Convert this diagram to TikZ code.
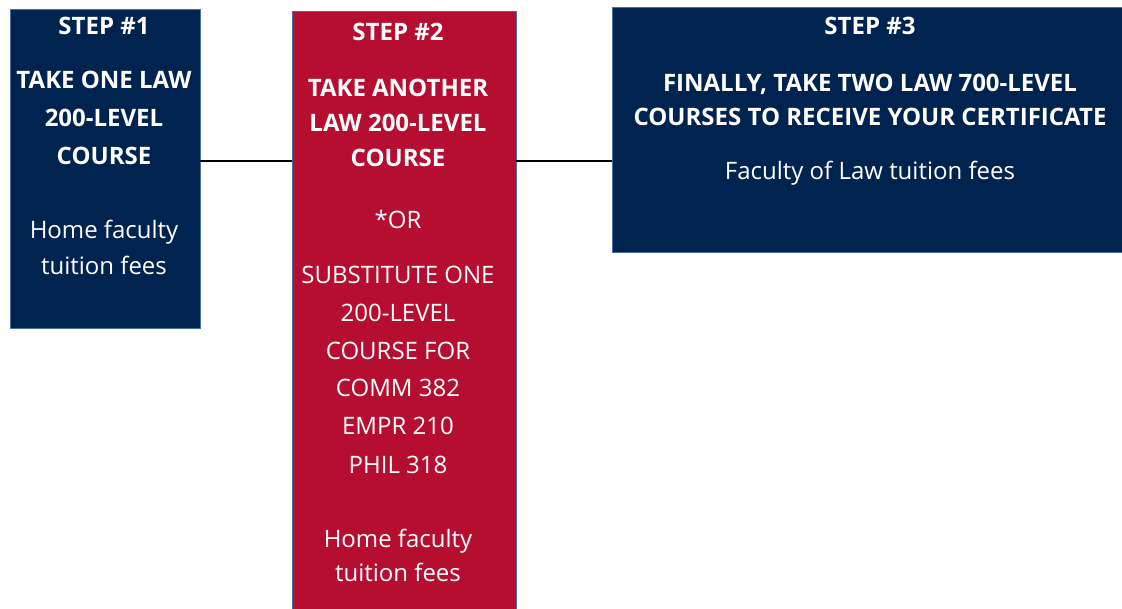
\documentclass[tikz,border=0pt]{standalone}
\usepackage{fontspec}
\setmainfont{Open Sans}
\definecolor{navy}{RGB}{0,35,80}
\definecolor{crim}{RGB}{182,14,48}
\definecolor{edge}{RGB}{74,110,165}
\begin{document}
\begin{tikzpicture}[x=1pt,y=-1pt,
  box/.style={draw=edge,line width=0.8pt,inner sep=0,outer sep=0,anchor=north west},
  hd/.style={text=white,font=\fontsize{24}{28}\selectfont\bfseries,anchor=base,inner sep=0},
  tx/.style={text=white,font=\fontsize{24}{28}\selectfont,anchor=base,inner sep=0},
  link/.style={draw=black,line width=2.8pt}]
\useasboundingbox (0,0) rectangle (1122,609);
\node[box,fill=navy,minimum width=190pt,minimum height=319pt] (b1) at (10,9) {};
\node[box,fill=crim,minimum width=224pt,minimum height=610pt] (b2) at (292,11) {};
\node[box,fill=navy,minimum width=520pt,minimum height=245pt] (b3) at (612,7) {};
\draw[link] (b1.east |- 0,161) coordinate (l1) -- (b2.west |- 0,161) coordinate (l2);
\draw[link] (b2.east |- 0,161) coordinate (l3) -- (b3.west |- 0,161) coordinate (l4);
% box 1
\node[hd] (s1) at (104,35) {STEP \#1};
\node[hd] (s1a) at (104,89) {TAKE ONE LAW};
\node[hd] (s1b) at (104,127) {200-LEVEL};
\node[hd] (s1c) at (104,165) {COURSE};
\node[tx] (s1d) at (104,239) {Home faculty};
\node[tx] (s1e) at (104,275) {tuition fees};
% box 2
\node[hd] (s2) at (398,41) {STEP \#2};
\node[hd] (s2a) at (398,97) {TAKE ANOTHER};
\node[hd] (s2b) at (398,132) {LAW 200-LEVEL};
\node[hd] (s2c) at (398,167) {COURSE};
\node[tx] (s2d) at (398,229) {*OR};
\node[tx] (s2e) at (398,284) {SUBSTITUTE ONE};
\node[tx] (s2f) at (398,322) {200-LEVEL};
\node[tx] (s2g) at (398,360) {COURSE FOR};
\node[tx] (s2h) at (398,397) {COMM 382};
\node[tx] (s2i) at (398,435) {EMPR 210};
\node[tx] (s2j) at (398,473) {PHIL 318};
\node[tx] (s2k) at (398,547) {Home faculty};
\node[tx] (s2l) at (398,581) {tuition fees};
% box 3
\node[hd] (s3) at (870,35) {STEP \#3};
\node[hd] (s3a) at (870,92) {FINALLY, TAKE TWO LAW 700-LEVEL};
\node[hd] (s3b) at (870,126) {COURSES TO RECEIVE YOUR CERTIFICATE};
\node[tx] (s3c) at (870,180) {Faculty of Law tuition fees};
\end{tikzpicture}
\end{document}
